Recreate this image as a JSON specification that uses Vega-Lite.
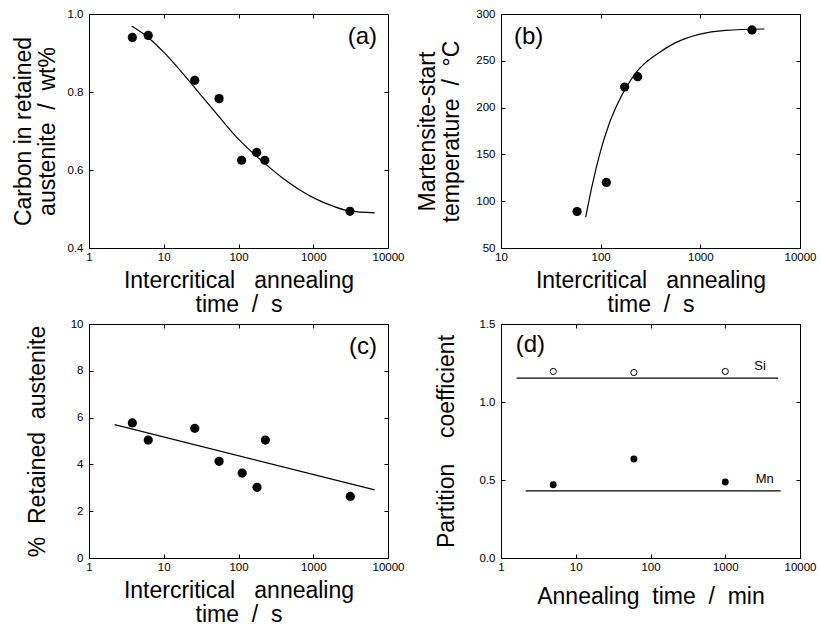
{
  "$schema": "https://vega.github.io/schema/vega-lite/v6.json",
  "background": "white",
  "padding": {"left": 11, "top": 7, "right": 5, "bottom": 5},
  "bounds": "flush",
  "columns": 2,
  "spacing": {"row": 76, "column": 113},
  "config": {
    "font": "Liberation Sans",
    "view": {"stroke": "black", "strokeWidth": 1},
    "axis": {
      "grid": false,
      "domain": false,
      "ticks": true,
      "tickSize": -4,
      "tickColor": "black",
      "tickWidth": 1,
      "labelPadding": 10,
      "labelFlush": false,
      "labelColor": "black",
      "labelFont": "Liberation Sans",
      "labelFontSize": 11.5,
      "titleColor": "black",
      "titleFont": "Liberation Sans",
      "titleFontSize": 23,
      "titleFontWeight": "normal",
      "titleLineHeight": 24
    },
    "axisX": {"labelPadding": 7}
  },
  "concat": [
    {
      "width": 299,
      "height": 234,
      "resolve": {"axis": {"x": "independent", "y": "independent"}},
      "layer": [
        {
          "data": {"values": [
            {"t": 3.72, "v": 0.969}, {"t": 6.35, "v": 0.938}, {"t": 10.6, "v": 0.897},
            {"t": 17.7, "v": 0.849}, {"t": 29.6, "v": 0.798}, {"t": 49.5, "v": 0.747},
            {"t": 82.7, "v": 0.696}, {"t": 138, "v": 0.653}, {"t": 231, "v": 0.615},
            {"t": 385, "v": 0.58}, {"t": 645, "v": 0.55}, {"t": 1078, "v": 0.526},
            {"t": 1800, "v": 0.508}, {"t": 3010, "v": 0.495}, {"t": 6640, "v": 0.49}
          ]},
          "mark": {"type": "line", "color": "black", "strokeWidth": 1.2, "interpolate": "monotone"},
          "encoding": {
            "x": {"field": "t", "type": "quantitative", "scale": {"type": "log", "domain": [1, 10000]},
                  "axis": {"orient": "bottom", "values": [1, 10, 100, 1000, 10000], "format": "d",
                           "title": ["Intercritical\u00a0\u00a0\u00a0annealing", "time\u00a0\u00a0/\u00a0\u00a0s"], "titlePadding": 7}},
            "y": {"field": "v", "type": "quantitative", "scale": {"domain": [0.4, 1.0]},
                  "axis": {"orient": "left", "values": [0.4, 0.6, 0.8, 1.0], "format": ".1f",
                           "title": ["Carbon in retained", "austenite\u00a0\u00a0/\u00a0\u00a0wt%"], "titlePadding": 8}}
          }
        },
        {
          "data": {"values": [
            {"t": 3.8, "v": 0.94}, {"t": 6.2, "v": 0.945}, {"t": 26, "v": 0.83},
            {"t": 55, "v": 0.783}, {"t": 110, "v": 0.625}, {"t": 175, "v": 0.645},
            {"t": 225, "v": 0.625}, {"t": 3100, "v": 0.494}
          ]},
          "mark": {"type": "circle", "color": "black", "opacity": 1, "size": 85},
          "encoding": {
            "x": {"field": "t", "type": "quantitative", "scale": {"type": "log", "domain": [1, 10000]},
                  "axis": {"orient": "top", "values": [1, 10, 100, 1000, 10000], "labels": false, "title": null}},
            "y": {"field": "v", "type": "quantitative", "scale": {"domain": [0.4, 1.0]},
                  "axis": {"orient": "right", "values": [0.4, 0.6, 0.8, 1.0], "labels": false, "title": null}}
          }
        },
        {
          "data": {"values": [{"t": 7130, "v": 0.9415, "label": "(a)"}]},
          "mark": {"type": "text", "fontSize": 24, "align": "right", "baseline": "middle", "color": "black"},
          "encoding": {
            "x": {"field": "t", "type": "quantitative", "scale": {"type": "log", "domain": [1, 10000]}, "axis": null},
            "y": {"field": "v", "type": "quantitative", "scale": {"domain": [0.4, 1.0]}, "axis": null},
            "text": {"field": "label"}
          }
        }
      ]
    },
    {
      "width": 299,
      "height": 234,
      "resolve": {"axis": {"x": "independent", "y": "independent"}},
      "layer": [
        {
          "data": {"values": [
            {"t": 70.8, "v": 83}, {"t": 82.6, "v": 118}, {"t": 100, "v": 154},
            {"t": 121, "v": 182}, {"t": 147, "v": 203.5}, {"t": 178, "v": 220.6},
            {"t": 242, "v": 241}, {"t": 385, "v": 258.7}, {"t": 566, "v": 269.4},
            {"t": 970, "v": 278.3}, {"t": 1795, "v": 282.6}, {"t": 4390, "v": 284}
          ]},
          "mark": {"type": "line", "color": "black", "strokeWidth": 1.2, "interpolate": "monotone"},
          "encoding": {
            "x": {"field": "t", "type": "quantitative", "scale": {"type": "log", "domain": [10, 10000]},
                  "axis": {"orient": "bottom", "values": [10, 100, 1000, 10000], "format": "d",
                           "title": ["Intercritical\u00a0\u00a0\u00a0annealing", "time\u00a0\u00a0/\u00a0\u00a0s"], "titlePadding": 7}},
            "y": {"field": "v", "type": "quantitative", "scale": {"domain": [50, 300]},
                  "axis": {"orient": "left", "values": [50, 100, 150, 200, 250, 300], "format": "d",
                           "title": ["Martensite-start", "temperature\u00a0\u00a0/\u00a0\u00a0°C"], "titlePadding": 12}}
          }
        },
        {
          "data": {"values": [
            {"t": 58, "v": 89}, {"t": 114, "v": 120}, {"t": 174, "v": 222},
            {"t": 235, "v": 233}, {"t": 3300, "v": 283}
          ]},
          "mark": {"type": "circle", "color": "black", "opacity": 1, "size": 85},
          "encoding": {
            "x": {"field": "t", "type": "quantitative", "scale": {"type": "log", "domain": [10, 10000]},
                  "axis": {"orient": "top", "values": [10, 100, 1000, 10000], "labels": false, "title": null}},
            "y": {"field": "v", "type": "quantitative", "scale": {"domain": [50, 300]},
                  "axis": {"orient": "right", "values": [50, 100, 150, 200, 250, 300], "labels": false, "title": null}}
          }
        },
        {
          "data": {"values": [{"t": 13.5, "v": 275.6, "label": "(b)"}]},
          "mark": {"type": "text", "fontSize": 24, "align": "left", "baseline": "middle", "color": "black"},
          "encoding": {
            "x": {"field": "t", "type": "quantitative", "scale": {"type": "log", "domain": [10, 10000]}, "axis": null},
            "y": {"field": "v", "type": "quantitative", "scale": {"domain": [50, 300]}, "axis": null},
            "text": {"field": "label"}
          }
        }
      ]
    },
    {
      "width": 299,
      "height": 234,
      "resolve": {"axis": {"x": "independent", "y": "independent"}},
      "layer": [
        {
          "data": {"values": [{"t": 2.2, "v": 5.7}, {"t": 6640, "v": 2.91}]},
          "mark": {"type": "line", "color": "black", "strokeWidth": 1.2},
          "encoding": {
            "x": {"field": "t", "type": "quantitative", "scale": {"type": "log", "domain": [1, 10000]},
                  "axis": {"orient": "bottom", "values": [1, 10, 100, 1000, 10000], "format": "d",
                           "title": ["Intercritical\u00a0\u00a0\u00a0annealing", "time\u00a0\u00a0/\u00a0\u00a0s"], "titlePadding": 7}},
            "y": {"field": "v", "type": "quantitative", "scale": {"domain": [0, 10]},
                  "axis": {"orient": "left", "values": [0, 2, 4, 6, 8, 10], "format": "d",
                           "title": "%\u00a0\u00a0Retained\u00a0\u00a0austenite", "titlePadding": 21}}
          }
        },
        {
          "data": {"values": [
            {"t": 3.8, "v": 5.77}, {"t": 6.2, "v": 5.04}, {"t": 26, "v": 5.54},
            {"t": 55, "v": 4.13}, {"t": 112, "v": 3.63}, {"t": 177, "v": 3.02},
            {"t": 229, "v": 5.04}, {"t": 3130, "v": 2.63}
          ]},
          "mark": {"type": "circle", "color": "black", "opacity": 1, "size": 85},
          "encoding": {
            "x": {"field": "t", "type": "quantitative", "scale": {"type": "log", "domain": [1, 10000]},
                  "axis": {"orient": "top", "values": [1, 10, 100, 1000, 10000], "labels": false, "title": null}},
            "y": {"field": "v", "type": "quantitative", "scale": {"domain": [0, 10]},
                  "axis": {"orient": "right", "values": [0, 2, 4, 6, 8, 10], "labels": false, "title": null}}
          }
        },
        {
          "data": {"values": [{"t": 7130, "v": 9.0, "label": "(c)"}]},
          "mark": {"type": "text", "fontSize": 24, "align": "right", "baseline": "middle", "color": "black"},
          "encoding": {
            "x": {"field": "t", "type": "quantitative", "scale": {"type": "log", "domain": [1, 10000]}, "axis": null},
            "y": {"field": "v", "type": "quantitative", "scale": {"domain": [0, 10]}, "axis": null},
            "text": {"field": "label"}
          }
        }
      ]
    },
    {
      "width": 299,
      "height": 234,
      "resolve": {"axis": {"x": "independent", "y": "independent"}},
      "layer": [
        {
          "data": {"values": [
            {"s": "Si", "t": 1.62, "v": 1.153}, {"s": "Si", "t": 5080, "v": 1.153},
            {"s": "Mn", "t": 2.14, "v": 0.43}, {"s": "Mn", "t": 5510, "v": 0.43}
          ]},
          "mark": {"type": "line", "color": "black", "strokeWidth": 1.2},
          "encoding": {
            "detail": {"field": "s"},
            "x": {"field": "t", "type": "quantitative", "scale": {"type": "log", "domain": [1, 10000]},
                  "axis": {"orient": "bottom", "values": [1, 10, 100, 1000, 10000], "format": "d",
                           "title": "Annealing\u00a0\u00a0time\u00a0\u00a0/\u00a0\u00a0min", "titlePadding": 13}},
            "y": {"field": "v", "type": "quantitative", "scale": {"domain": [0, 1.5]},
                  "axis": {"orient": "left", "values": [0, 0.5, 1.0, 1.5], "format": ".1f",
                           "title": "Partition\u00a0\u00a0\u00a0\u00a0coefficient", "titlePadding": 21}}
          }
        },
        {
          "data": {"values": [
            {"t": 5, "v": 0.47}, {"t": 60, "v": 0.635}, {"t": 1000, "v": 0.487}
          ]},
          "mark": {"type": "circle", "color": "black", "opacity": 1, "size": 48},
          "encoding": {
            "x": {"field": "t", "type": "quantitative", "scale": {"type": "log", "domain": [1, 10000]},
                  "axis": {"orient": "top", "values": [1, 10, 100, 1000, 10000], "labels": false, "title": null}},
            "y": {"field": "v", "type": "quantitative", "scale": {"domain": [0, 1.5]},
                  "axis": {"orient": "right", "values": [0, 0.5, 1.0, 1.5], "labels": false, "title": null}}
          }
        },
        {
          "data": {"values": [
            {"t": 5, "v": 1.196}, {"t": 60, "v": 1.189}, {"t": 1000, "v": 1.196}
          ]},
          "mark": {"type": "point", "shape": "circle", "color": "black", "filled": false, "strokeWidth": 1, "size": 38, "opacity": 1},
          "encoding": {
            "x": {"field": "t", "type": "quantitative", "scale": {"type": "log", "domain": [1, 10000]}, "axis": null},
            "y": {"field": "v", "type": "quantitative", "scale": {"domain": [0, 1.5]}, "axis": null}
          }
        },
        {
          "data": {"values": [
            {"t": 2917, "v": 1.232, "label": "Si"},
            {"t": 3382, "v": 0.507, "label": "Mn"}
          ]},
          "mark": {"type": "text", "fontSize": 13, "align": "center", "baseline": "middle", "color": "black"},
          "encoding": {
            "x": {"field": "t", "type": "quantitative", "scale": {"type": "log", "domain": [1, 10000]}, "axis": null},
            "y": {"field": "v", "type": "quantitative", "scale": {"domain": [0, 1.5]}, "axis": null},
            "text": {"field": "label"}
          }
        },
        {
          "data": {"values": [{"t": 1.57, "v": 1.364, "label": "(d)"}]},
          "mark": {"type": "text", "fontSize": 24, "align": "left", "baseline": "middle", "color": "black"},
          "encoding": {
            "x": {"field": "t", "type": "quantitative", "scale": {"type": "log", "domain": [1, 10000]}, "axis": null},
            "y": {"field": "v", "type": "quantitative", "scale": {"domain": [0, 1.5]}, "axis": null},
            "text": {"field": "label"}
          }
        }
      ]
    }
  ]
}
